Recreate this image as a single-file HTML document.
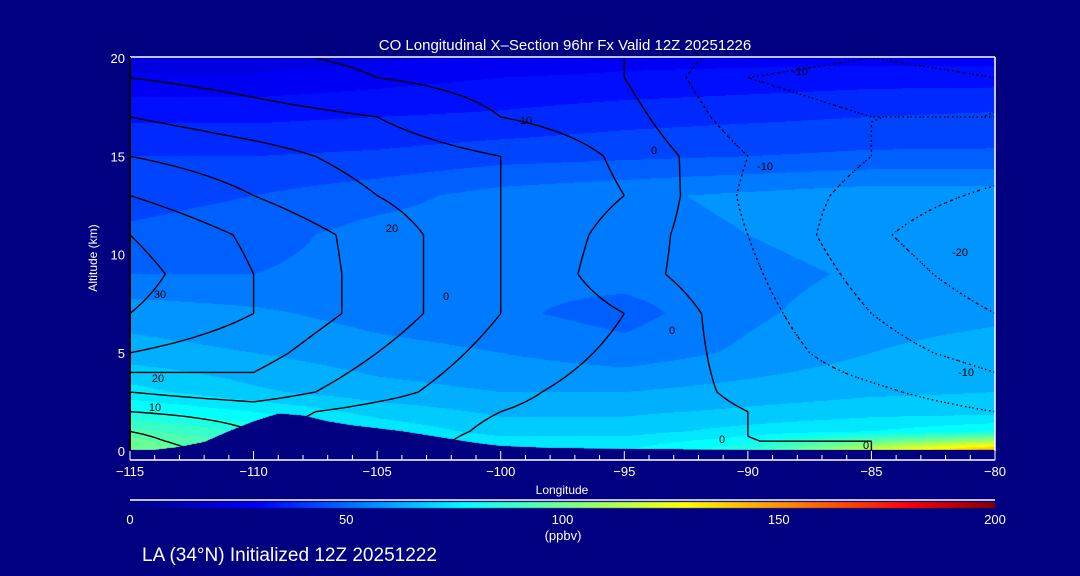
<!DOCTYPE html>
<html><head><meta charset="utf-8"><style>
html,body{margin:0;padding:0;background:#000080;width:1080px;height:576px;overflow:hidden}
#wrap{position:relative;width:1080px;height:576px}
canvas,svg{position:absolute;left:0;top:0}
text{font-family:"Liberation Sans",sans-serif;fill:#fff}
</style></head><body>
<div id="wrap">
<canvas id="cv" width="1080" height="576"></canvas>
<svg id="sv" width="1080" height="576"></svg>
</div>
<script>
const lons=[-115,-110,-105,-100,-95,-90,-85,-80];
const alts=[0,0.5,1,2,3,5,7,9,11,13,15,17,19,20];
const co=[
[100,90,80,75,75,85,120,150],
[97,88,78,72,72,78,95,110],
[92,84,74,68,68,72,75,80],
[80,75,68,64,64,66,68,68],
[72,66,62,60,60,62,64,65],
[62,60,57,55,52,56,60,62],
[58,56,53,51,48,54,58,59],
[50,50,52,51,52,53,56,57],
[46,48,52,53,53,55,58,58],
[43,45,48,52,54,56,58,58],
[40,40,41,43,44,45,46,46],
[34,34,35,36,38,39,40,41],
[26,26,28,30,31,32,33,33],
[22,22,24,26,28,28,28,28]];
const anom=[
[0,10,8,3,2,0,0,-2],
[3,10,8,3,2,0,0,-2],
[5,10,8,4,2,0,-1,-3],
[10,12,8,5,3,0,-2,-5],
[15,18,12,6,3,-1,-4,-8],
[25,22,15,8,4,-2,-8,-12],
[30,25,18,10,5,-3,-10,-15],
[32,25,18,10,2,-4,-12,-18],
[30,24,18,10,3,-5,-14,-20],
[25,20,15,10,5,-6,-12,-16],
[20,17,13,10,4,-5,-10,-12],
[15,12,10,5,2,-8,-10,-10],
[10,8,5,3,0,-10,-12,-10],
[8,6,4,3,0,-8,-10,-8]];
const levels=[-20,-15,-10,-5,0,5,10,15,20,25,30];
const terrLon=[-115,-114,-113,-112,-111,-110,-109,-108,-107,-106,-105,-104,-103,-102,-101,-100,-98,-95,-90,-85,-80];
const terrAlt=[0.05,0.05,0.2,0.45,1.0,1.5,1.9,1.8,1.5,1.3,1.15,1.0,0.8,0.6,0.4,0.25,0.15,0.1,0.05,0.05,0.05];
const xTicks=[-115,-110,-105,-100,-95,-90,-85,-80];
const yTicks=[0,5,10,15,20];
const cbTicks=[0,50,100,150,200];

const X0=130,X1=995,Y0=451,Y1=58;
const xs=l=>X0+(l+115)/35*(X1-X0);
const ys=a=>Y0-a/20*(Y0-Y1);
function idx(arr,v){for(let i=0;i<arr.length-1;i++){if(v<=arr[i+1])return [i,(v-arr[i])/(arr[i+1]-arr[i])];}return [arr.length-2,1];}
function field(g,lon,alt){const [i,fx]=idx(lons,lon);const [j,fy]=idx(alts,alt);
 const a=g[j][i],b=g[j][i+1],c=g[j+1][i],d=g[j+1][i+1];
 return (a*(1-fx)+b*fx)*(1-fy)+(c*(1-fx)+d*fx)*fy;}
function jet(v){const st=[[0,0,0,130],[30,0,0,255],[77,0,255,255],[102,128,255,128],[128,255,255,0],[180,255,0,0],[200,128,0,0]];
 v=Math.max(0,Math.min(200,v));for(let i=0;i<st.length-1;i++){if(v<=st[i+1][0]){const t=(v-st[i][0])/(st[i+1][0]-st[i][0]);
 return [0,1,2].map(k=>Math.round(st[i][k+1]+(st[i+1][k+1]-st[i][k+1])*t));}}return [128,0,0];}
function terr(lon){const [i,f]=idx(terrLon,lon);return terrAlt[i]*(1-f)+terrAlt[i+1]*f;}

const ctx=document.getElementById('cv').getContext('2d');
const img=ctx.createImageData(X1-X0,Y0-Y1);
for(let py=0;py<Y0-Y1;py++){for(let px=0;px<X1-X0;px++){
 const lon=-115+(px+0.5)/(X1-X0)*35, alt=(Y0-Y1-py-0.5)/(Y0-Y1)*20;
 let c;
 if(alt<terr(lon)) c=[0,0,128]; else {const v=Math.floor(field(co,lon,alt)/5)*5+2.5;c=jet(v);}
 const o=(py*(X1-X0)+px)*4;img.data[o]=c[0];img.data[o+1]=c[1];img.data[o+2]=c[2];img.data[o+3]=255;}}
ctx.putImageData(img,X0,Y1);
const cbImg=ctx.createImageData(X1-X0,6);
for(let px=0;px<X1-X0;px++){const c=jet(px/(X1-X0)*200);for(let r=0;r<6;r++){const o=(r*(X1-X0)+px)*4;cbImg.data[o]=c[0];cbImg.data[o+1]=c[1];cbImg.data[o+2]=c[2];cbImg.data[o+3]=255;}}
ctx.putImageData(cbImg,X0,502);

const NS='http://www.w3.org/2000/svg';
const svg=document.getElementById('sv');
function mk(t,attrs,txt){const e=document.createElementNS(NS,t);for(const k in attrs)e.setAttribute(k,attrs[k]);if(txt!==undefined)e.textContent=txt;svg.appendChild(e);return e;}

const dl=0.5,da=0.25,nL=71,nA=81;
const G=[];for(let j=0;j<nA;j++){G.push([]);for(let i=0;i<nL;i++)G[j].push(field(anom,-115+i*dl,j*da));}
levels.forEach(L=>{
 let d='';
 for(let j=0;j<nA-1;j++)for(let i=0;i<nL-1;i++){
  const p=[[i,j],[i+1,j],[i+1,j+1],[i,j+1]];const v=p.map(q=>G[q[1]][q[0]]);
  const pts=[];
  for(let e=0;e<4;e++){const a=v[e],b=v[(e+1)%4];if((a<L)!==(b<L)){const t=(L-a)/(b-a);const q1=p[e],q2=p[(e+1)%4];
   const li=q1[0]+(q2[0]-q1[0])*t, aj=q1[1]+(q2[1]-q1[1])*t;pts.push([xs(-115+li*dl),ys(aj*da)]);}}
  for(let k=0;k+1<pts.length;k+=2)d+=`M${pts[k][0].toFixed(1)},${pts[k][1].toFixed(1)}L${pts[k+1][0].toFixed(1)},${pts[k+1][1].toFixed(1)}`;
 }
 const path=mk('path',{d:d,stroke:'#000',fill:'none','stroke-width':1.4,'stroke-dasharray':L<0?'1.5,3':'none'});
 
 
});
let td=`M${xs(-115)},${Y0}`;terrLon.forEach((l,i)=>td+=`L${xs(l).toFixed(1)},${ys(terrAlt[i]).toFixed(1)}`);td+=`L${X1},${Y0}Z`;
const tm=mk('path',{d:td,fill:'#000080'});


[['30',160,298],['20',158,382],['10',155,411],['20',392,232],['10',526,124],['0',654,154],['0',446,300],['0',672,334],['0',722,443],['0',866,449],['-10',800,75],['-10',765,170],['-20',960,256],['-10',966,376]].forEach(t=>{
 const e=mk('text',{x:t[1],y:t[2],'font-size':11,'text-anchor':'middle',style:'fill:#000'},t[0]);
 
 
});
mk('line',{x1:X0,y1:57,x2:X1,y2:57,stroke:'#fff','stroke-width':1.5});
mk('line',{x1:X1,y1:57,x2:X1,y2:Y0,stroke:'#fff','stroke-width':1.5});
mk('line',{x1:X0,y1:57,x2:X0,y2:Y0,stroke:'#000','stroke-width':2});
const xa=mk('line',{x1:X0,y1:460,x2:X1,y2:460,stroke:'#fff','stroke-width':1.5});


for(let l=-115;l<=-80;l++){const maj=l%5===0;mk('line',{x1:xs(l),y1:460,x2:xs(l),y2:maj?451:455,stroke:'#fff','stroke-width':1});}
xTicks.forEach(l=>{const e=mk('text',{x:xs(l),y:476,'font-size':13,'text-anchor':'middle'},'\u2212'+Math.abs(l));
 
 });
yTicks.forEach(a=>{const e=mk('text',{x:125,y:ys(a)+5,'font-size':13,'text-anchor':'end'},String(a));
 
 });
mk('line',{x1:X0,y1:500,x2:X1,y2:500,stroke:'#fff','stroke-width':1.5});
cbTicks.forEach(v=>{const e=mk('text',{x:X0+v/200*(X1-X0),y:524,'font-size':13,'text-anchor':'middle'},String(v));
 
 });
</script>
<svg width="1080" height="576" style="position:absolute;left:0;top:0;pointer-events:none">
<text x="565" y="50" font-size="15" text-anchor="middle">CO Longitudinal X–Section 96hr  Fx Valid 12Z 20251226</text>
<text x="562" y="494" font-size="12" text-anchor="middle">Longitude</text>
<text x="97" y="258" font-size="12" text-anchor="middle" transform="rotate(-90 97 258)">Altitude (km)</text>
<text x="563" y="540" font-size="13" text-anchor="middle">(ppbv)</text>
<text x="142" y="561" font-size="19">LA (34°N) Initialized 12Z 20251222</text>
</svg>
</body></html>
